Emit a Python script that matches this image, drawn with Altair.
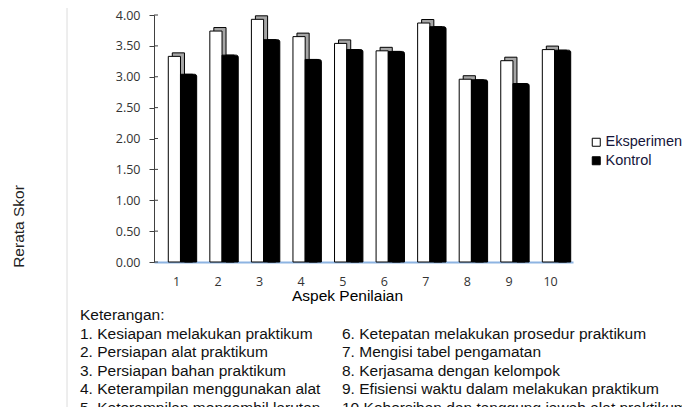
import altair as alt
import pandas as pd

# ---- data ----
aspek = ["1", "2", "3", "4", "5", "6", "7", "8", "9", "10"]
eksperimen = [3.33, 3.74, 3.93, 3.65, 3.54, 3.42, 3.87, 2.96, 3.26, 3.44]
kontrol = [3.04, 3.35, 3.60, 3.28, 3.44, 3.41, 3.81, 2.95, 2.89, 3.43]
seri = ["Eksperimen", "Kontrol"]
y_ticks = [0, 0.5, 1.0, 1.5, 2.0, 2.5, 3.0, 3.5, 4.0]

keterangan_judul = "Keterangan:"
keterangan_kiri = [
    "1. Kesiapan melakukan praktikum",
    "2. Persiapan alat praktikum",
    "3. Persiapan bahan praktikum",
    "4. Keterampilan menggunakan alat",
    "5. Keterampilan mengambil larutan",
]
keterangan_kanan = [
    "6. Ketepatan melakukan prosedur praktikum",
    "7. Mengisi tabel pengamatan",
    "8. Kerjasama dengan kelompok",
    "9. Efisiensi waktu dalam melakukan praktikum",
    "10.Kebersihan dan tanggung jawab alat praktikum",
]

df_e = pd.DataFrame({"aspek": aspek, "skor": eksperimen, "seri": seri[0]})
df_k = pd.DataFrame({"aspek": aspek, "skor": kontrol, "seri": seri[1]})
df_ticks = pd.DataFrame({"skor": y_ticks})

# ---- layout / style ----
W, H = 419, 247
BW = 12.2          # width of one bar
DX, DY = 4, -3.5   # pseudo-3D depth offsets
SHIFT = 4          # bars sit slightly right of the category centre

x_scale = alt.Scale(domain=aspek, paddingInner=0.41, paddingOuter=0.246)
y_scale = alt.Scale(domain=[0, 4], nice=False, zero=True)
color_scale = alt.Scale(domain=seri, range=["#ffffff", "#000000"])

x_enc = alt.X(
    "aspek:N", scale=x_scale, title="Aspek Penilaian",
    axis=alt.Axis(
        labelAngle=0, ticks=False, tickSize=0,
        domainColor="#8DB4E2", domainWidth=2,
        labelFont="Open Sans", labelFontSize=12.5, labelColor="#333333",
        labelPadding=19, labelBaseline="middle",
        titleFont="Liberation Sans", titleFontSize=15.5, titleFontWeight="normal",
        titleColor="#000000", titleX=193, titleY=33, titleBaseline="middle",
    ),
)
y_axis = alt.Axis(
    values=y_ticks, format=".2f", grid=False,
    domainColor="#404040", tickColor="#404040", tickSize=5,
    labelFont="Open Sans", labelFontSize=12.5, labelColor="#333333",
    labelPadding=9,
    titleFont="Liberation Sans", titleFontSize=15.5, titleFontWeight="normal",
    titleColor="#222222", titleX=-136, titleY=211, titleBaseline="middle",
    titleAngle=270,
)
y_enc = alt.Y("skor:Q", scale=y_scale, title="Rerata Skor", axis=y_axis)

legend = alt.Legend(
    title=None, orient="none", legendX=435, legendY=120, padding=0,
    symbolType="square", symbolSize=64, symbolStrokeColor="#000000",
    symbolStrokeWidth=1, labelFont="Liberation Sans", labelFontSize=14.5,
    labelColor="#15153a", labelOffset=2, rowPadding=3.5,
)

off_e = SHIFT - BW / 2
off_k = SHIFT + BW / 2

shadow_e = alt.Chart(df_e).mark_bar(
    width=BW, xOffset=off_e + DX, yOffset=DY, y2Offset=DY - 3,
    fill="#a6a6a6", stroke="#000000", strokeWidth=1,
).encode(x=x_enc, y=y_enc)

front_e = alt.Chart(df_e).mark_bar(
    width=BW, xOffset=off_e, y2Offset=-3, stroke="#000000", strokeWidth=1,
).encode(x=x_enc, y=y_enc,
         color=alt.Color("seri:N", scale=color_scale, legend=legend))

shadow_k = alt.Chart(df_k).mark_bar(
    width=BW, xOffset=off_k + DX, y2Offset=DY - 3,
    fill="#000000", stroke="#000000", strokeWidth=1, cornerRadiusTopRight=2,
).encode(x=x_enc, y=y_enc)

front_k = alt.Chart(df_k).mark_bar(
    width=BW, xOffset=off_k, y2Offset=-3, stroke="#000000", strokeWidth=1,
).encode(x=x_enc, y=y_enc,
         color=alt.Color("seri:N", scale=color_scale, legend=legend))

# inner half of the crossing y-axis ticks
inner_ticks = alt.Chart(df_ticks).mark_rule(
    color="#404040", strokeWidth=1
).encode(y=y_enc, x=alt.value(0), x2=alt.value(4))

# faint vertical frame line at the left
frame = alt.Chart(pd.DataFrame({"a": [0]})).mark_rule(
    color="#dcdcdc", strokeWidth=1
).encode(x=alt.value(-87), y=alt.value(-15), y2=alt.value(400))

txt_style = dict(align="left", baseline="alphabetic", lineBreak="\n",
                 lineHeight=18.5, font="Liberation Sans", fontSize=15.5,
                 color="#111111")

kiri = alt.Chart(pd.DataFrame({"t": ["\n".join([keterangan_judul] + keterangan_kiri)]})
                 ).mark_text(**txt_style).encode(
    x=alt.value(-74), y=alt.value(305), text="t:N")

kanan = alt.Chart(pd.DataFrame({"t": ["\n".join(keterangan_kanan)]})
                  ).mark_text(**txt_style).encode(
    x=alt.value(188), y=alt.value(323.5), text="t:N")

chart = alt.layer(
    frame, shadow_e, front_e, shadow_k, front_k, inner_ticks, kiri, kanan
).properties(
    width=W, height=H,
    autosize=alt.AutoSizeParams(type="none"),
    padding={"left": 146, "top": 7, "right": 109, "bottom": 145},
    background="#ffffff",
).configure_view(strokeWidth=0)

chart.save("out.html", embed_options={"renderer": "svg", "actions": False})
